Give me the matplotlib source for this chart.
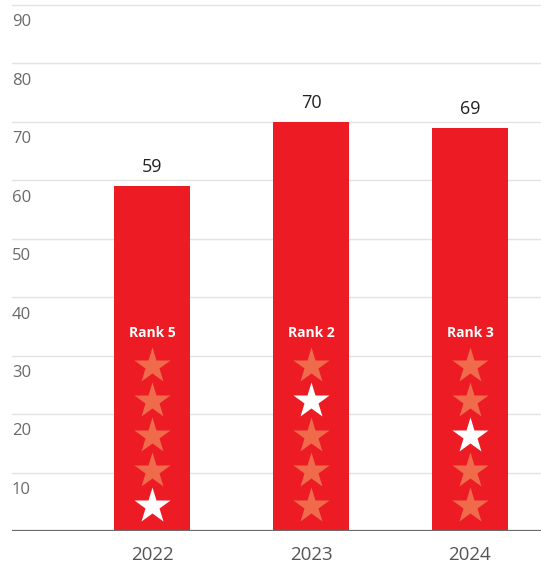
import matplotlib
matplotlib.use("Agg")
import matplotlib.pyplot as plt
import numpy as np

plt.rcParams['font.family'] = ['Open Sans', 'DejaVu Sans']

# data
years = ['2022', '2023', '2024']
scores = [59, 70, 69]
ranks = [5, 2, 3]
n_stars = 5
y_ticks = [10, 20, 30, 40, 50, 60, 70, 80, 90]

bar_red = '#ED1C24'
star_orange = '#F06A4C'

fig = plt.figure(figsize=(5.41, 5.65), dpi=100)
ax = fig.add_axes([12 / 541, 34 / 565, 529 / 541, 531 / 565])

x = np.arange(len(years))
ax.bar(x, scores, width=0.478, color=bar_red, zorder=2)

ax.set_xlim(-0.881, 2.447)
ax.set_ylim(0, 90.85)

# gridlines with labels sitting just under them
for v in y_ticks:
    ax.axhline(v, color='#e3e3e3', lw=1, zorder=1)
    ax.annotate(str(v), xy=(0, v), xycoords=('axes fraction', 'data'),
                xytext=(0, -12.5), textcoords='offset points',
                ha='left', va='center', fontsize=12, color='#6a6a6a')
ax.axhline(0, color='#6b6b6b', lw=1.6, zorder=3)

# value labels above bars
for xi, s in zip(x, scores):
    ax.annotate(str(s), xy=(xi, s), xytext=(0, 13.5), textcoords='offset points',
                ha='center', va='center', fontsize=13, color='#222222')

# stars and rank text
star_y = [28.2, 22.2, 16.2, 10.2, 4.2]
for xi, r in zip(x, ranks):
    for i in range(n_stars):
        c = 'white' if i + 1 == r else star_orange
        ax.plot(xi, star_y[i], marker='*', ms=27, color=c, mec='none',
                linestyle='none', zorder=4)
    ax.text(xi, 33.8, 'Rank ' + str(r), ha='center', va='center',
            fontsize=10, fontweight='bold', color='white', zorder=4)

ax.set_xticks(x)
ax.set_xticklabels(years, fontsize=13.5, color='#555555')
ax.tick_params(axis='x', length=0, pad=11)
ax.set_yticks([])
for sp in ax.spines.values():
    sp.set_visible(False)

fig.savefig('out.png', dpi=100)
